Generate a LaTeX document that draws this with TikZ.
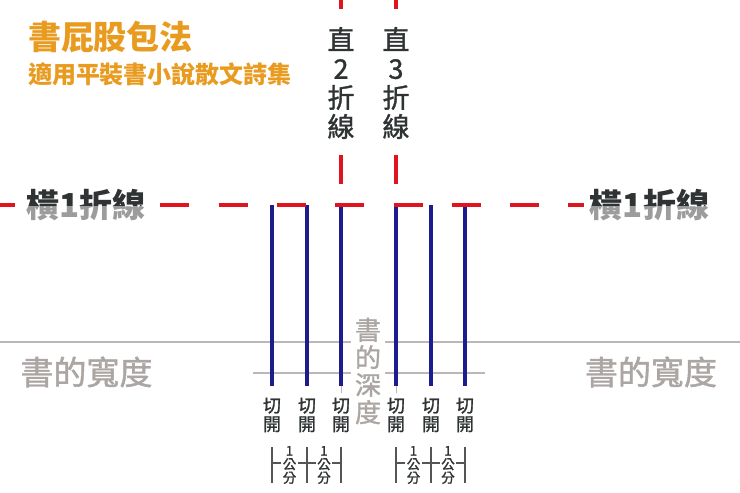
\documentclass[tikz,border=0pt]{standalone}
\usepackage{fontspec}
\newfontfamily\cjk{Noto Sans CJK TC}
\newfontfamily\cjkm{Noto Sans CJK TC}[FakeBold=1.3]
\definecolor{orng}{HTML}{E99B1F}
\definecolor{redl}{HTML}{E0141E}
\definecolor{bluel}{HTML}{1C1C8C}
\definecolor{grayl}{HTML}{BDB7B3}
\definecolor{grayt}{HTML}{ABA6A3}
\definecolor{graymid}{HTML}{9C9C9C}
\definecolor{darkt}{HTML}{2F3333}
\definecolor{rulec}{HTML}{555555}
\begin{document}
\begin{tikzpicture}[x=1pt,y=-1pt,
  redfold/.style={draw=redl,line width=4pt,dash pattern=on 29.15pt off 29.15pt},
  cutline/.style={draw=bluel,line width=4pt},
  baseA/.style={draw=grayl,line width=2.5pt},
  baseB/.style={draw=grayl,line width=1.6pt},
  tinyline/.style={draw=grayl,line width=0.8pt},
  ruler/.style={draw=rulec,line width=1.4pt},
  titletext/.style={text=orng,font=\cjk\bfseries\fontsize{33}{36}\selectfont,inner sep=0pt},
  subtext/.style={text=orng,font=\cjk\bfseries\fontsize{24}{26}\selectfont,inner sep=0pt},
  vlabel/.style={text=darkt,fill=white,align=center,inner xsep=4pt,inner ysep=7pt,
    font=\cjkm\fontsize{27}{29}\selectfont},
  hlabel/.style={fill=white,inner xsep=6pt,inner ysep=2pt,
    font=\cjk\bfseries\fontsize{33}{36}\selectfont},
  widthtext/.style={text=grayt,inner sep=0pt,font=\cjkm\fontsize{33}{36}\selectfont},
  depthtext/.style={text=grayt,fill=white,align=center,inner xsep=4pt,inner ysep=1pt,
    font=\cjkm\fontsize{26}{27.5}\selectfont},
  cuttext/.style={text=darkt,align=center,inner sep=0pt,font=\cjkm\fontsize{18}{18.5}\selectfont},
  cmtext/.style={text=darkt,fill=white,align=center,inner xsep=1.5pt,inner ysep=0pt,
    font=\cjkm\fontsize{13.5}{13.5}\selectfont}
]
\useasboundingbox[fill=white] (0,0) rectangle (740,493);

% titles
\node[titletext] (title) at (110.5,37.5) {書屁股包法};
\node[subtext] (subtitle) at (160,74) {適用平裝書小說散文詩集};

% gray book lines
\coordinate (gA1) at (0,342); \coordinate (gA2) at (740,342);
\coordinate (gB1) at (253,373); \coordinate (gB2) at (485,373);
\draw[baseA] (gA1) -- (gA2);
\draw[baseB] (gB1) -- (gB2);
\node[depthtext] (depth) at (368,371) {書\\的\\深\\度};
\node[widthtext] (wL) at (86.5,372) {書的寬度};
\node[widthtext] (wR) at (651,372) {書的寬度};

% blue cut lines
\foreach \i/\x in {1/272,2/307,3/341,4/396,5/431,6/465}{
  \coordinate (ct\i) at (\x,205);
  \coordinate (cb\i) at (\x,386);
  \draw[cutline] (ct\i) -- (cb\i);
  \node[cuttext] (cut\i) at (\x,415) {切\\開};
}
\coordinate (tk3a) at (341,386); \coordinate (tk3b) at (341,393);
\coordinate (tk4a) at (396,386); \coordinate (tk4b) at (396,393);
\draw[tinyline] (tk3a) -- (tk3b);
\draw[tinyline] (tk4a) -- (tk4b);

% horizontal fold line
\coordinate (hA) at (-14.6,205); \coordinate (hB) at (760,205);
\draw[redfold] (hA) -- (hB);
\node[hlabel,text=graymid] (hL) at (86,205) {橫1折線};
\node[hlabel,text=graymid] (hR) at (649.5,205) {橫1折線};
\begin{scope}
  \clip (0,0) rectangle (740,205);
  \node[hlabel,text=darkt] (hLt) at (86,205) {橫1折線};
  \node[hlabel,text=darkt] (hRt) at (649.5,205) {橫1折線};
\end{scope}

% vertical fold lines
\coordinate (v2b) at (341,184); \coordinate (v2t) at (341,-20);
\coordinate (v3b) at (396,184); \coordinate (v3t) at (396,-20);
\draw[redfold] (v2b) -- (v2t);
\draw[redfold] (v3b) -- (v3t);
\node[vlabel] (vl2) at (341,83) {直\\2\\折\\線};
\node[vlabel] (vl3) at (396,83) {直\\3\\折\\線};

% 1 cm rulers
\foreach \i/\x in {1/272,2/307,3/341,4/396,5/431,6/465}{
  \coordinate (rt\i) at (\x,447);
  \coordinate (rb\i) at (\x,483);
  \draw[ruler] (rt\i) -- (rb\i);
}
\coordinate (rm1) at (272,463); \coordinate (rm3) at (341,463);
\coordinate (rm4) at (396,463); \coordinate (rm6) at (465,463);
\draw[ruler] (rm1) -- (rm3);
\draw[ruler] (rm4) -- (rm6);
\node[cmtext] (cm1) at (289.5,465) {1\\公\\分};
\node[cmtext] (cm2) at (324,465) {1\\公\\分};
\node[cmtext] (cm3) at (413.5,465) {1\\公\\分};
\node[cmtext] (cm4) at (448,465) {1\\公\\分};
\end{tikzpicture}
\end{document}
